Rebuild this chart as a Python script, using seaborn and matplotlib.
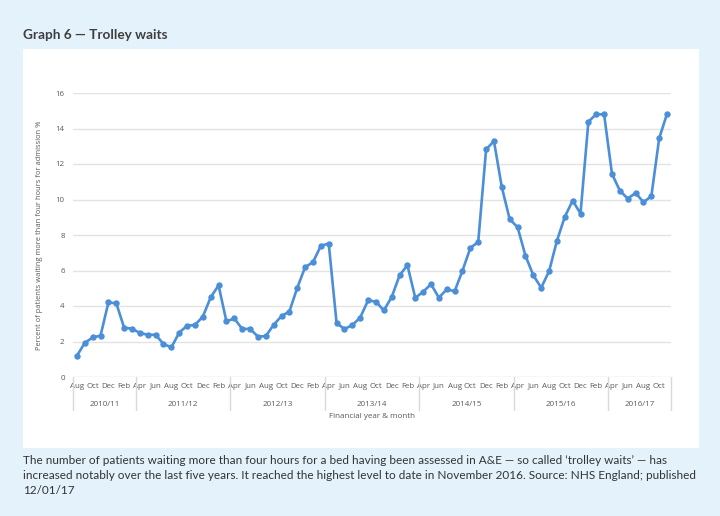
import matplotlib
matplotlib.use("Agg")
import matplotlib.pyplot as plt
import seaborn as sns
import pandas as pd
import numpy as np
from matplotlib.patches import Rectangle
from matplotlib.lines import Line2D

# ---- data ----
months = ["Aug", "Sep", "Oct", "Nov", "Dec", "Jan", "Feb", "Mar"] + \
         ["Apr", "May", "Jun", "Jul", "Aug", "Sep", "Oct", "Nov", "Dec", "Jan", "Feb", "Mar"] * 5 + \
         ["Apr", "May", "Jun", "Jul", "Aug", "Sep", "Oct", "Nov"]
values = [1.20, 1.92, 2.23, 2.33, 4.20, 4.15, 2.78, 2.72,
          2.48, 2.38, 2.38, 1.86, 1.67, 2.50, 2.89, 2.93, 3.40, 4.49, 5.16, 3.13,
          3.30, 2.71, 2.71, 2.28, 2.30, 2.94, 3.43, 3.69, 5.02, 6.19, 6.47, 7.39,
          7.52, 3.03, 2.71, 2.92, 3.35, 4.31, 4.25, 3.75, 4.50, 5.72, 6.30, 4.46,
          4.80, 5.23, 4.47, 4.94, 4.83, 5.99, 7.27, 7.61, 12.82, 13.29, 10.69, 8.89,
          8.44, 6.84, 5.73, 5.03, 5.95, 7.67, 9.02, 9.94, 9.21, 14.38, 14.81, 14.79,
          11.44, 10.50, 10.05, 10.37, 9.85, 10.18, 13.45, 14.83]
years = ["2010/11", "2011/12", "2012/13", "2013/14", "2014/15", "2015/16", "2016/17"]
year_lengths = [8, 12, 12, 12, 12, 12, 8]
y_ticks = [0, 2, 4, 6, 8, 10, 12, 14, 16]

df = pd.DataFrame({"idx": np.arange(len(values)), "month": months, "value": values})

# ---- style ----
sns.set_theme(style="white")
plt.rcParams["font.family"] = ["Open Sans", "DejaVu Sans"]

BG = "#e4f2fb"
LINE = "#4a8fd8"
TICK = "#595959"
GRID = "#e3e3e3"

fig = plt.figure(figsize=(7.2, 5.16), dpi=100, facecolor=BG)
fig.patches.append(Rectangle((23 / 720, 1 - 448 / 516), 676 / 720, 399 / 516,
                             transform=fig.transFigure, facecolor="white",
                             edgecolor="none", zorder=-5))

ax = fig.add_axes([73 / 720, 1 - 377 / 516, 598 / 720, 284 / 516])
ax.set_facecolor("none")
ax.set_zorder(2)

sns.lineplot(data=df, x="idx", y="value", ax=ax, color=LINE, linewidth=1.9,
             marker="o", markersize=4.6, markeredgewidth=0, zorder=3)

ax.set_xlim(-0.5, len(values) - 0.5)
ax.set_ylim(0, 16)
ax.set_yticks(y_ticks)
ax.set_yticklabels([str(t) for t in y_ticks])
for t in y_ticks[1:]:
    ax.axhline(t, color=GRID, linewidth=1.0, zorder=1)
ax.axhline(0, color="#d9d9d9", linewidth=1.0, zorder=1)

tick_idx = list(range(0, len(values), 2))
ax.set_xticks(tick_idx)
ax.set_xticklabels([months[i] for i in tick_idx])
ax.tick_params(axis="x", length=0, pad=4, labelsize=5.7, labelcolor=TICK)
ax.tick_params(axis="y", length=0, pad=6, labelsize=5.7, labelcolor=TICK)
for s in ax.spines.values():
    s.set_visible(False)
ax.set_xlabel("")
ax.set_ylabel("Percent of patients waiting more than four hours for admission %",
              fontsize=5.4, color=TICK, labelpad=9)

# year group labels and separators
trans = ax.get_xaxis_transform()
start = -0.5
bounds = [start]
for yr, n in zip(years, year_lengths):
    end = start + n
    ax.text((start + end) / 2, -27 / 284, yr, transform=trans, ha="center",
            va="center", fontsize=5.8, color=TICK)
    bounds.append(end)
    start = end
for b in bounds:
    ax.add_line(Line2D([b, b], [0, -33 / 284], transform=trans, color="#d9d9d9",
                       linewidth=1.0, clip_on=False))
ax.text(0.5, -39 / 284, "Financial year & month", transform=ax.transAxes,
        ha="center", va="center", fontsize=5.8, color=TICK)

# title & caption
fig.text(23 / 720, 1 - 35 / 516, "Graph 6 \u2014 Trolley waits", ha="left",
         va="center", fontsize=9.8, fontweight="bold", color="#3f3f3f",
         family=["Lato", "DejaVu Sans"])
caption = [
    "The number of patients waiting more than four hours for a bed having been assessed in A&E \u2014 so called \u2018trolley waits\u2019 \u2014 has",
    "increased notably over the last five years. It reached the highest level to date in November 2016. Source: NHS England; published",
    "12/01/17",
]
for i, line in enumerate(caption):
    fig.text(23 / 720, 1 - (460 + i * 15.5) / 516, line, ha="left", va="center",
             fontsize=8.45, color="#333333", family=["Lato", "DejaVu Sans"])

fig.savefig("out.png", dpi=100, facecolor=BG)
